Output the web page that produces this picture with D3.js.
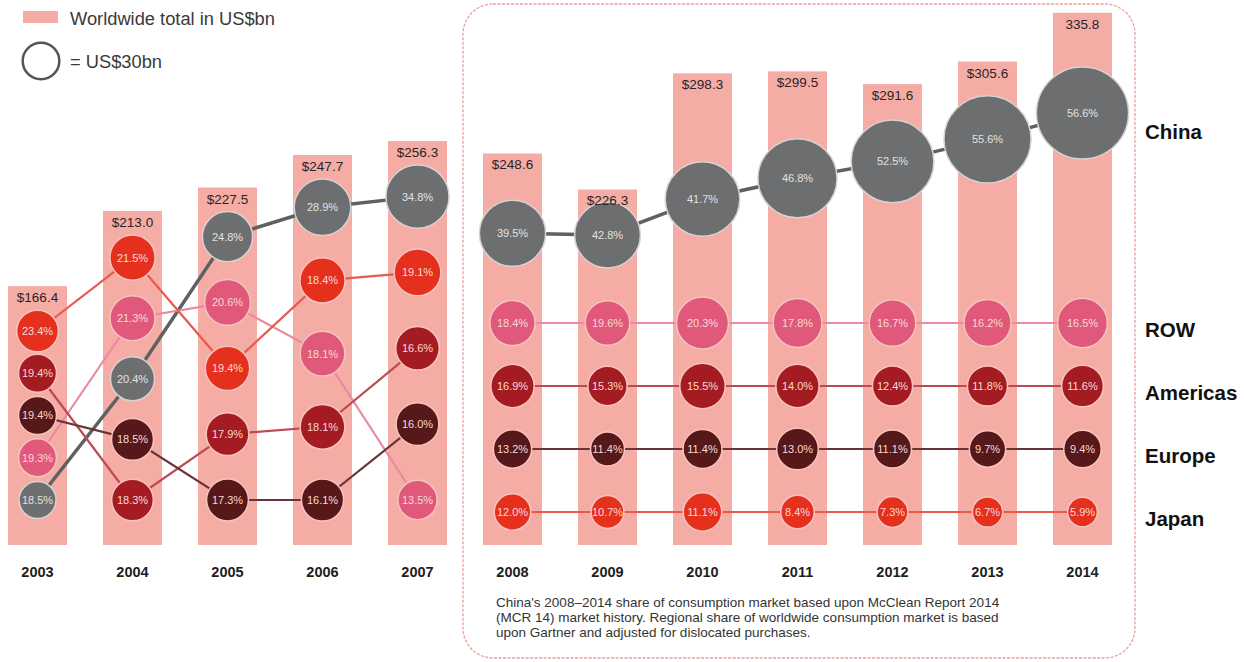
<!DOCTYPE html>
<html>
<head>
<meta charset="utf-8">
<script src="https://cdn.jsdelivr.net/npm/d3@7"></script>
<style>
  body { margin: 0; background: #fff; }
  svg { display: block; font-family: "Liberation Sans", Arial, Helvetica, sans-serif; }
</style>
</head>
<body>
<div id="chart"></div>
<script>
// Worldwide semiconductor consumption, regional share by year
const years = ["2003", "2004", "2005", "2006", "2007", "2008", "2009", "2010", "2011", "2012", "2013", "2014"];
const rankedYears = ["2003", "2004", "2005", "2006", "2007"];
const totals = [166.4, 213.0, 227.5, 247.7, 256.3, 248.6, 226.3, 298.3, 299.5, 291.6, 305.6, 335.8];
const totalLabels = ["$166.4", "$213.0", "$227.5", "$247.7", "$256.3", "$248.6", "$226.3", "$298.3", "$299.5", "$291.6", "$305.6", "335.8"];

const regions = ["China", "ROW", "Americas", "Europe", "Japan"];
const chinaShare    = [18.5, 20.4, 24.8, 28.9, 34.8, 39.5, 42.8, 41.7, 46.8, 52.5, 55.6, 56.6];
const rowShare      = [19.3, 21.3, 20.6, 18.1, 13.5, 18.4, 19.6, 20.3, 17.8, 16.7, 16.2, 16.5];
const americasShare = [19.4, 18.3, 17.9, 18.1, 16.6, 16.9, 15.3, 15.5, 14.0, 12.4, 11.8, 11.6];
const europeShare   = [19.4, 18.5, 17.3, 16.1, 16.0, 13.2, 11.4, 11.4, 13.0, 11.1, 9.7, 9.4];
const japanShare    = [23.4, 21.5, 19.4, 18.4, 19.1, 12.0, 10.7, 11.1, 8.4, 7.3, 6.7, 5.9];

const footnote = [
  "China's 2008\u20132014 share of consumption market based upon McClean Report 2014",
  "(MCR 14) market history. Regional share of worldwide consumption market is based",
  "upon Gartner and adjusted for dislocated purchases."
];

const shares = { China: chinaShare, ROW: rowShare, Americas: americasShare, Europe: europeShare, Japan: japanShare };
const fills  = { China: "#6d6e70", ROW: "#e0587a", Americas: "#a41c22", Europe: "#561818", Japan: "#e6301e" };
const links  = { China: "#5f6062", ROW: "#e98aa2", Americas: "#bd4a52", Europe: "#6a3436", Japan: "#ea5a4c" };

const width = 1244, height = 662;
const svg = d3.select("#chart").append("svg")
  .attr("width", width)
  .attr("height", height);

// scales
const x = d3.scalePoint().domain(years).range([37.5, 1082.5]);
const barW = 59;
const y = d3.scaleLinear().domain([6, 340]).range([545, 6]);
const r = d3.scaleSqrt().domain([0, 30]).range([0, 18.3]);   // legend: circle = US$30bn
const yRow = d3.scalePoint().domain(regions.slice(1)).range([323, 512]);

const bn = (reg, i) => shares[reg][i] * totals[i] / 100;
const chinaBn = years.map((d, i) => bn("China", i)).filter((d, i) => !rankedYears.includes(years[i]));
const yChina = d3.scaleLinear().domain(d3.extent(chinaBn)).range([235, 113]);

// where a circle sits: ranked slots for 2003-07, region rows afterwards
function posY(reg, i) {
  const yr = years[i];
  if (rankedYears.includes(yr)) {
    const order = regions.slice().sort((a, b) =>
      d3.descending(shares[a][i], shares[b][i]) || regions.indexOf(a) - regions.indexOf(b));
    const slots = d3.scalePoint().domain(d3.range(5))
      .range([y(totals[i]) + 24 + r(bn(order[0], i)), 500]);
    return slots(order.indexOf(reg));
  }
  if (reg === "China") return yChina(bn(reg, i));
  return yRow(reg);
}

const pts = [];
regions.forEach(reg => years.forEach((yr, i) => {
  pts.push({ reg, yr, i, share: shares[reg][i], cx: x(yr), cy: posY(reg, i), rad: r(bn(reg, i)) });
}));

// framed box for 2008-2014
svg.append("rect")
  .attr("x", 463).attr("y", 4)
  .attr("width", 672).attr("height", 654)
  .attr("rx", 30)
  .attr("fill", "none")
  .attr("stroke", "#ef9c9c")
  .attr("stroke-width", 1.3)
  .attr("stroke-dasharray", "3,1.5");

// bars
svg.selectAll("rect.bar")
  .data(years)
  .enter()
  .append("rect")
  .attr("class", "bar")
  .attr("x", d => x(d) - barW / 2)
  .attr("y", (d, i) => y(totals[i]))
  .attr("width", barW)
  .attr("height", (d, i) => 545 - y(totals[i]))
  .attr("fill", "#f4aca4");

// year labels
svg.selectAll("text.year")
  .data(years)
  .enter()
  .append("text")
  .attr("class", "year")
  .attr("x", d => x(d))
  .attr("y", 577)
  .attr("text-anchor", "middle")
  .attr("font-size", 14.5)
  .attr("font-weight", "bold")
  .attr("fill", "#1e1e1e")
  .text(d => d);

// connecting lines
const line = d3.line().x(d => d.cx).y(d => d.cy);
regions.forEach(reg => {
  const mine = pts.filter(p => p.reg === reg);
  [mine.filter(p => rankedYears.includes(p.yr)), mine.filter(p => !rankedYears.includes(p.yr))]
    .forEach(seg => {
      svg.append("path")
        .datum(seg)
        .attr("fill", "none")
        .attr("stroke", links[reg])
        .attr("stroke-width", reg === "China" ? 3.5 : 2.2)
        .attr("d", line);
    });
});

// circles
svg.selectAll("circle.share")
  .data(pts)
  .enter()
  .append("circle")
  .attr("class", "share")
  .attr("cx", d => d.cx)
  .attr("cy", d => d.cy)
  .attr("r", d => d.rad)
  .attr("fill", d => fills[d.reg])
  .attr("stroke", d => d.reg === "China" ? "#d9d2d2" : "#f6c4bf")
  .attr("stroke-width", 1.5);

svg.selectAll("text.share")
  .data(pts)
  .enter()
  .append("text")
  .attr("class", "share")
  .attr("x", d => d.cx)
  .attr("y", d => d.cy + 4)
  .attr("text-anchor", "middle")
  .attr("font-size", 11)
  .attr("fill", d => d.reg === "China" ? "#e2e2e2" : "#f8d8d8")
  .text(d => d.share.toFixed(1) + "%");

// totals on top of the bars
svg.selectAll("text.total")
  .data(years)
  .enter()
  .append("text")
  .attr("class", "total")
  .attr("x", d => x(d))
  .attr("y", (d, i) => y(totals[i]) + 16)
  .attr("text-anchor", "middle")
  .attr("font-size", 13.5)
  .attr("fill", "#2a2526")
  .text((d, i) => totalLabels[i]);

// region labels on the right
svg.selectAll("text.region")
  .data(regions)
  .enter()
  .append("text")
  .attr("class", "region")
  .attr("x", 1145)
  .attr("y", d => d === "China" ? 139 : yRow(d) + 14)
  .attr("font-size", 20.5)
  .attr("font-weight", "bold")
  .attr("fill", "#111")
  .text(d => d);

// legend
svg.append("rect")
  .attr("x", 23).attr("y", 11)
  .attr("width", 35).attr("height", 12)
  .attr("fill", "#f4aca4");
svg.append("text")
  .attr("x", 70).attr("y", 25)
  .attr("font-size", 18.3)
  .attr("fill", "#3a3a3a")
  .text("Worldwide total in US$bn");
svg.append("circle")
  .attr("cx", 41).attr("cy", 61)
  .attr("r", r(30))
  .attr("fill", "none")
  .attr("stroke", "#555")
  .attr("stroke-width", 2.5);
svg.append("text")
  .attr("x", 70).attr("y", 68)
  .attr("font-size", 18.3)
  .attr("fill", "#3a3a3a")
  .text("= US$30bn");

// footnote
svg.append("text")
  .attr("x", 496)
  .attr("font-size", 13.5)
  .attr("fill", "#333")
  .selectAll("tspan")
  .data(footnote)
  .enter()
  .append("tspan")
  .attr("x", 496)
  .attr("y", (d, i) => 607 + i * 15)
  .text(d => d);
</script>
</body>
</html>
